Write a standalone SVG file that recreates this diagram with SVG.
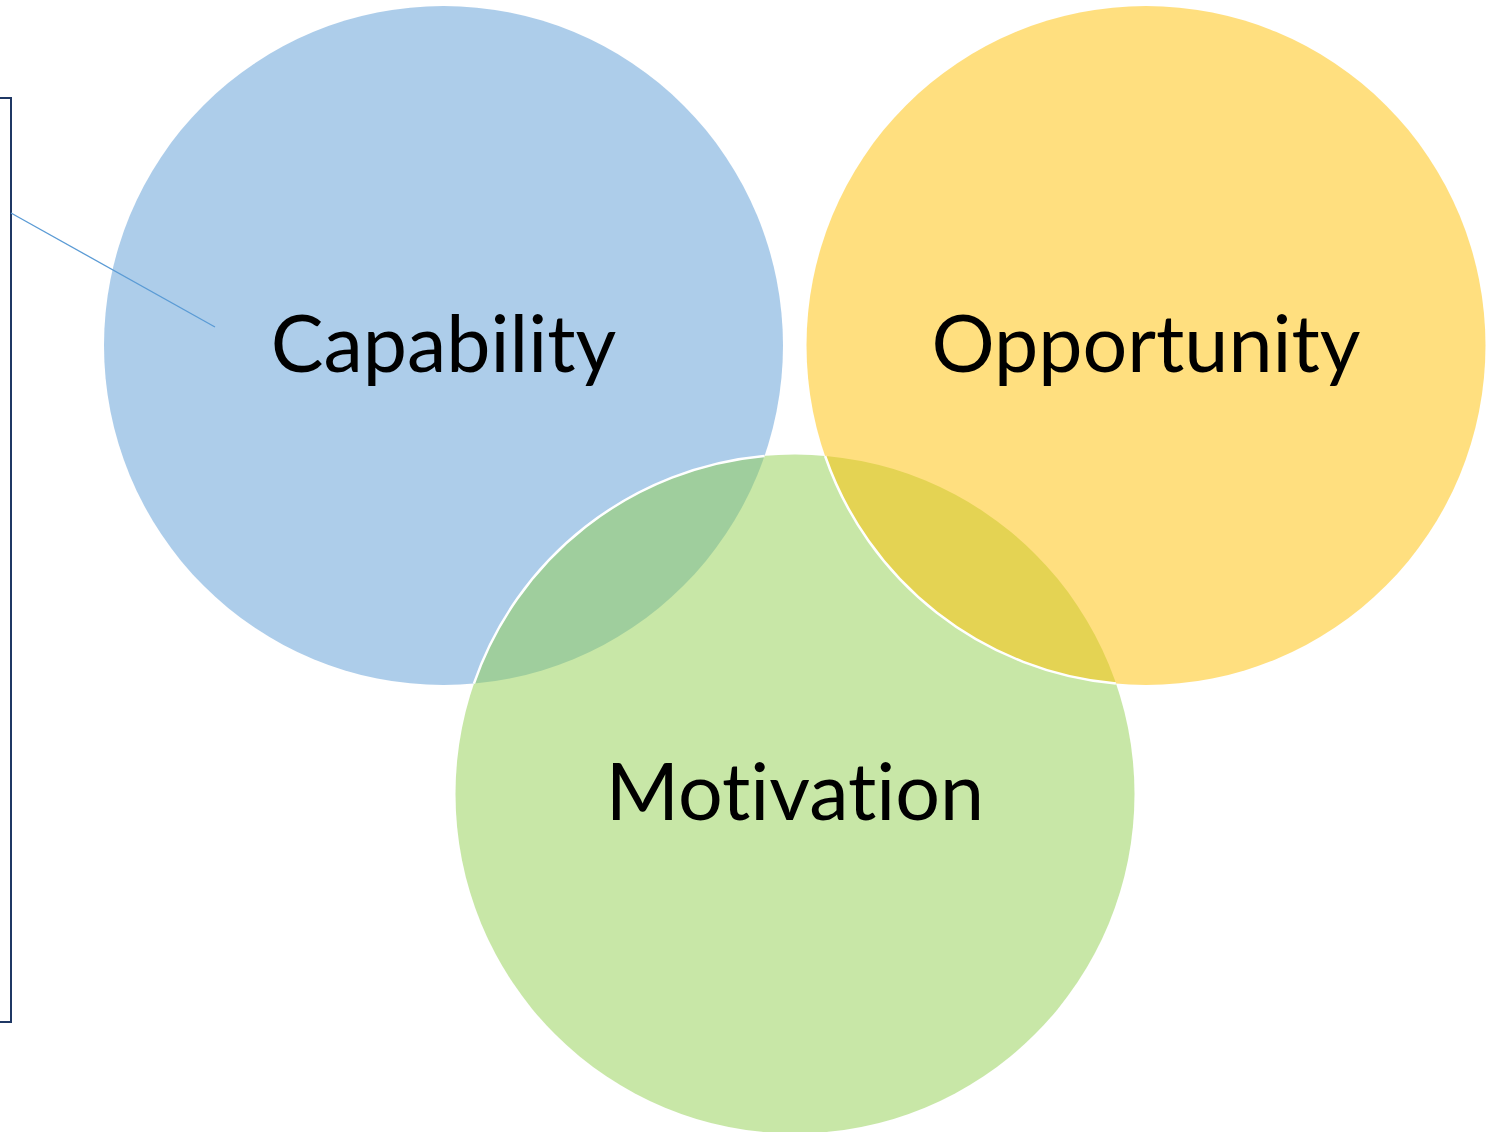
<svg xmlns="http://www.w3.org/2000/svg" width="1493" height="1132" viewBox="0 0 1493 1132">
  <style>
    .circle { opacity: 0.5; }
    .label { font-family: Lato, "Open Sans", "Liberation Sans", sans-serif; font-size: 79px; fill: #000000; text-anchor: middle; font-variant-ligatures: none; font-feature-settings: "liga" 0, "clig" 0; }
    .edge { fill: none; stroke: #FFFFFF; stroke-width: 2.5; }
  </style>
  <rect x="0" y="0" width="1493" height="1132" fill="#FFFFFF"/>
  <g id="capability">
    <circle class="circle" cx="443.5" cy="345.5" r="339.5" fill="#5B9BD5"/>
  </g>
  <g id="motivation">
    <circle class="circle" cx="795" cy="794" r="339.5" fill="#92D050"/>
    <path class="edge" d="M473.9,683.6 A339.5,339.5 0 0 1 764.6,455.9"/>
  </g>
  <g id="opportunity">
    <circle class="circle" cx="1146" cy="345.5" r="339.5" fill="#FFC000"/>
    <path class="edge" d="M825.1,456 A339.5,339.5 0 0 0 1115.9,683.5"/>
  </g>
  <g id="labels">
    <text class="label" x="443.5" y="372">Capability</text>
    <text class="label" x="1146" y="372">Opportunity</text>
    <text class="label" x="795" y="820">Motivation</text>
  </g>
  <g id="connectors">
    <path d="M0,98 H11 V1022 H0" fill="none" stroke="#1F3864" stroke-width="2"/>
    <line x1="11" y1="213" x2="215" y2="327" stroke="#5B9BD5" stroke-width="1.3"/>
  </g>
</svg>
